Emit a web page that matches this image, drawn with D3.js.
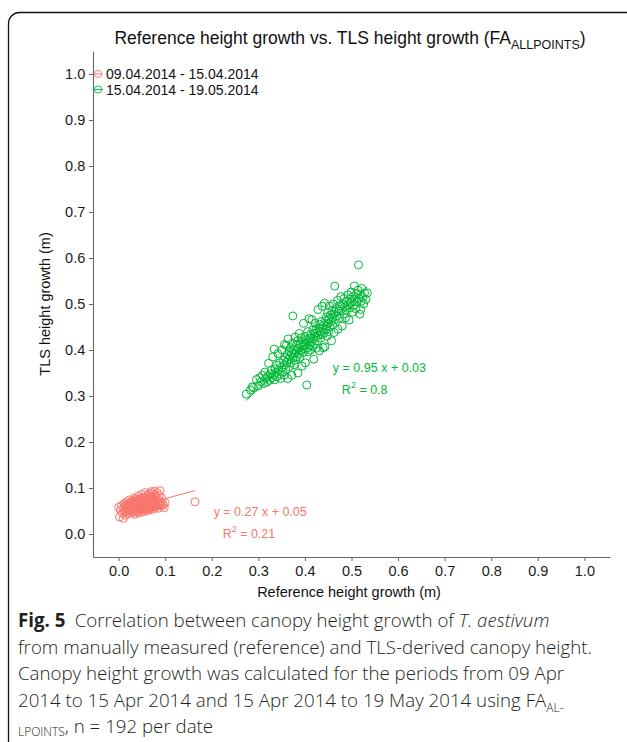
<!DOCTYPE html>
<html>
<head>
<meta charset="utf-8">
<script src="https://cdn.jsdelivr.net/npm/d3@7"></script>
<style>
  html, body { margin: 0; padding: 0; background: #fff; }
  svg { display: block; }
</style>
</head>
<body>
<svg id="fig" width="627" height="742"></svg>
<script>
// Period labels and colours
const periods = ["09.04.2014 - 15.04.2014", "15.04.2014 - 19.05.2014"];
const colors = ["#F8766D", "#00BA38"];

// Axis ticks
const xTicks = [0, 0.1, 0.2, 0.3, 0.4, 0.5, 0.6, 0.7, 0.8, 0.9, 1.0];
const yTicks = [0, 0.1, 0.2, 0.3, 0.4, 0.5, 0.6, 0.7, 0.8, 0.9, 1.0];

// Linear fits per period: slope, intercept, R²
const fitSlope = [0.27, 0.95];
const fitIntercept = [0.05, 0.03];
const fitR2 = ["0.21", "0.8"];

// Reference vs. TLS height growth (m), period 1
const period1 = [
  [0.000,0.058],[0.002,0.037],[0.004,0.052],[0.006,0.062],[0.008,0.045],[0.010,0.034],[0.011,0.056],[0.012,0.066],[0.013,0.048],[0.014,0.060],
  [0.015,0.041],[0.016,0.054],[0.017,0.070],[0.018,0.050],[0.019,0.062],[0.020,0.044],[0.021,0.058],[0.022,0.066],[0.022,0.052],[0.023,0.074],
  [0.024,0.047],[0.025,0.060],[0.025,0.055],[0.026,0.068],[0.027,0.050],[0.027,0.063],[0.028,0.057],[0.029,0.072],[0.030,0.046],[0.030,0.061],
  [0.031,0.054],[0.031,0.067],[0.032,0.058],[0.033,0.078],[0.033,0.050],[0.034,0.063],[0.034,0.056],[0.035,0.070],[0.035,0.043],[0.036,0.060],
  [0.036,0.066],[0.037,0.053],[0.037,0.075],[0.038,0.059],[0.038,0.064],[0.039,0.048],[0.039,0.069],[0.040,0.056],[0.040,0.062],[0.041,0.082],
  [0.041,0.052],[0.042,0.066],[0.042,0.058],[0.043,0.072],[0.043,0.061],[0.044,0.046],[0.044,0.064],[0.045,0.055],[0.045,0.069],[0.046,0.060],
  [0.046,0.077],[0.047,0.051],[0.047,0.065],[0.048,0.058],[0.048,0.071],[0.049,0.062],[0.049,0.086],[0.050,0.054],[0.050,0.067],[0.051,0.060],
  [0.051,0.074],[0.052,0.048],[0.052,0.064],[0.053,0.057],[0.053,0.070],[0.054,0.062],[0.054,0.080],[0.055,0.053],[0.055,0.066],[0.056,0.059],
  [0.056,0.073],[0.057,0.063],[0.057,0.090],[0.058,0.056],[0.058,0.068],[0.059,0.061],[0.059,0.076],[0.060,0.050],[0.060,0.065],[0.061,0.058],
  [0.061,0.071],[0.062,0.063],[0.062,0.084],[0.063,0.055],[0.063,0.068],[0.064,0.060],[0.064,0.075],[0.065,0.065],[0.065,0.052],[0.066,0.070],
  [0.066,0.088],[0.067,0.058],[0.067,0.063],[0.068,0.078],[0.068,0.067],[0.069,0.056],[0.069,0.072],[0.070,0.061],[0.070,0.092],[0.071,0.066],
  [0.071,0.082],[0.072,0.059],[0.072,0.070],[0.073,0.064],[0.073,0.087],[0.074,0.075],[0.074,0.054],[0.075,0.068],[0.075,0.080],[0.076,0.062],
  [0.077,0.073],[0.077,0.093],[0.078,0.058],[0.079,0.066],[0.079,0.085],[0.080,0.071],[0.081,0.061],[0.082,0.077],[0.083,0.090],[0.084,0.066],
  [0.085,0.056],[0.086,0.072],[0.087,0.083],[0.088,0.063],[0.089,0.094],[0.090,0.069],[0.091,0.061],[0.092,0.078],[0.094,0.066],[0.096,0.063],
  [0.098,0.057],[0.100,0.068],[0.164,0.070],
  [0.026,0.058],[0.028,0.064],[0.029,0.052],[0.032,0.070],[0.033,0.060],[0.035,0.057],[0.036,0.072],[0.038,0.052],[0.039,0.063],[0.040,0.068],
  [0.041,0.060],[0.042,0.050],[0.043,0.066],[0.044,0.074],[0.045,0.061],[0.046,0.056],[0.047,0.070],[0.048,0.064],[0.049,0.053],[0.050,0.060],
  [0.051,0.078],[0.052,0.068],[0.053,0.062],[0.054,0.057],[0.055,0.072],[0.056,0.065],[0.057,0.054],[0.058,0.062],[0.059,0.070],[0.060,0.078],
  [0.061,0.064],[0.062,0.057],[0.063,0.074],[0.064,0.067],[0.065,0.060],[0.066,0.078],[0.067,0.071],[0.068,0.062],[0.069,0.081],[0.070,0.066],
  [0.072,0.064],[0.074,0.070],[0.076,0.067],[0.078,0.074],[0.080,0.064],[0.020,0.060],[0.023,0.054],[0.018,0.057],[0.015,0.064]
];

// Reference vs. TLS height growth (m), period 2
const period2 = [
  [0.274,0.304],[0.283,0.313],[0.287,0.320],[0.290,0.318],[0.296,0.336],[0.300,0.322],[0.303,0.340],[0.306,0.331],[0.309,0.345],[0.312,0.327],
  [0.314,0.352],[0.316,0.338],[0.318,0.330],[0.320,0.343],[0.322,0.371],[0.324,0.334],[0.326,0.348],[0.328,0.356],[0.330,0.340],[0.331,0.385],
  [0.333,0.346],[0.334,0.402],[0.335,0.335],[0.336,0.359],[0.338,0.351],[0.339,0.367],[0.340,0.342],[0.342,0.392],[0.343,0.356],[0.345,0.348],
  [0.346,0.372],[0.348,0.338],
  [0.350,0.362],[0.351,0.400],[0.352,0.352],[0.354,0.378],[0.355,0.345],[0.356,0.412],[0.357,0.368],[0.358,0.383],[0.359,0.357],[0.360,0.410],
  [0.361,0.374],[0.362,0.390],[0.363,0.338],[0.364,0.424],[0.365,0.380],[0.366,0.398],[0.367,0.364],[0.368,0.386],[0.369,0.405],[0.370,0.372],
  [0.371,0.393],[0.372,0.345],[0.373,0.415],[0.374,0.474],[0.375,0.383],[0.376,0.401],[0.377,0.368],[0.378,0.392],[0.379,0.428],[0.380,0.378],
  [0.381,0.410],[0.382,0.397],[0.383,0.386],[0.384,0.420],[0.385,0.350],
  [0.386,0.404],[0.387,0.392],[0.388,0.436],[0.389,0.384],[0.390,0.412],[0.391,0.398],[0.392,0.426],[0.393,0.406],[0.394,0.365],[0.395,0.418],
  [0.396,0.394],[0.397,0.458],[0.398,0.410],[0.399,0.402],[0.400,0.430],[0.401,0.372],[0.402,0.414],[0.403,0.422],[0.404,0.324],[0.405,0.404],
  [0.406,0.440],[0.407,0.396],[0.408,0.418],[0.409,0.468],[0.410,0.410],[0.411,0.426],[0.412,0.400],[0.413,0.434],[0.414,0.418],[0.415,0.466],
  [0.416,0.408],[0.417,0.444],[0.418,0.424],[0.419,0.380],[0.420,0.436],[0.421,0.414],[0.422,0.458],[0.423,0.428],[0.424,0.446],[0.425,0.404],
  [0.426,0.438],[0.427,0.420],[0.428,0.488],[0.429,0.432],[0.430,0.448],[0.431,0.398],[0.432,0.456],[0.433,0.440],[0.434,0.426],[0.435,0.462],
  [0.436,0.434],[0.437,0.495],[0.438,0.446],[0.439,0.405],[0.440,0.454],[0.441,0.436],[0.442,0.502],[0.443,0.407],[0.444,0.464],[0.445,0.444],
  [0.446,0.472],[0.447,0.452],[0.448,0.430],[0.449,0.482],[0.450,0.458],[0.451,0.440],[0.452,0.468],[0.453,0.496],[0.454,0.450],[0.455,0.476],
  [0.456,0.462],[0.457,0.420],[0.458,0.486],[0.459,0.470],[0.460,0.454],[0.461,0.500],[0.462,0.478],[0.463,0.438],[0.464,0.539],[0.465,0.466],
  [0.467,0.490],[0.468,0.474],[0.470,0.508],[0.471,0.445],[0.472,0.484],[0.474,0.496],[0.475,0.470],[0.477,0.516],[0.478,0.488],[0.480,0.452],
  [0.481,0.500],[0.483,0.478],[0.484,0.512],[0.486,0.494],[0.487,0.470],[0.489,0.506],[0.490,0.486],[0.492,0.520],[0.493,0.498],[0.495,0.465],
  [0.496,0.510],[0.497,0.492],[0.499,0.526],[0.500,0.504],[0.502,0.482],[0.503,0.516],[0.505,0.498],[0.506,0.539],
  [0.508,0.510],[0.509,0.490],[0.511,0.522],[0.512,0.504],[0.514,0.530],[0.515,0.585],[0.516,0.512],[0.518,0.478],[0.519,0.520],[0.521,0.506],
  [0.522,0.534],[0.524,0.515],[0.526,0.500],[0.528,0.524],[0.531,0.510],[0.534,0.524],[0.520,0.488]
];

const series = [period1, period2];

const svg = d3.select("#fig");
const font = "'Liberation Sans', Arial, sans-serif";

// Figure frame (rounded box that runs off the page edge)
svg.append("rect")
  .attr("x", 8.5).attr("y", 12.5)
  .attr("width", 700).attr("height", 800)
  .attr("rx", 11).attr("ry", 11)
  .attr("fill", "none").attr("stroke", "#111").attr("stroke-width", 1.3);

// Panel geometry
const panel = { left: 93, right: 610, top: 51, bottom: 557 };
const x = d3.scaleLinear().domain([-0.055, 1.055]).range([panel.left, panel.right]);
const y = d3.scaleLinear().domain([-0.05, 1.05]).range([panel.bottom, panel.top]);

// Title with subscript
const title = svg.append("text")
  .attr("x", 350).attr("y", 44)
  .attr("text-anchor", "middle")
  .attr("font-family", font).attr("font-size", 17.5).attr("fill", "#111");
title.append("tspan").text("Reference height growth vs. TLS height growth (FA");
title.append("tspan").attr("font-size", 12.5).attr("dy", 5).text("ALLPOINTS");
title.append("tspan").attr("dy", -5).text(")");

// Axes
const axisColor = "#666";
const gx = svg.append("g").attr("transform", `translate(0,${panel.bottom})`)
  .call(d3.axisBottom(x).tickValues(xTicks).tickFormat(d3.format(".1f")).tickSize(4).tickSizeOuter(0));
const gy = svg.append("g").attr("transform", `translate(${panel.left},0)`)
  .call(d3.axisLeft(y).tickValues(yTicks).tickFormat(d3.format(".1f")).tickSize(4).tickSizeOuter(0));
[gx, gy].forEach(g => {
  g.select(".domain").attr("stroke", axisColor).attr("stroke-width", 1.1);
  g.selectAll(".tick line").attr("stroke", axisColor);
  g.selectAll(".tick text").attr("font-family", font).attr("font-size", 14.5).attr("fill", "#1a1a1a");
});
gx.selectAll(".tick text").attr("dy", "0.82em");
gy.selectAll(".tick text").attr("dx", "-0.05em");

// Axis titles
svg.append("text")
  .attr("x", 349).attr("y", 597)
  .attr("text-anchor", "middle")
  .attr("font-family", font).attr("font-size", 14.5).attr("fill", "#111")
  .text("Reference height growth (m)");
svg.append("text")
  .attr("transform", `translate(50,${(panel.top + panel.bottom) / 2}) rotate(-90)`)
  .attr("text-anchor", "middle")
  .attr("font-family", font).attr("font-size", 14.5).attr("fill", "#111")
  .text("TLS height growth (m)");

// Points
series.forEach((pts, i) => {
  svg.append("g").selectAll("circle").data(pts).join("circle")
    .attr("cx", d => x(d[0])).attr("cy", d => y(d[1]))
    .attr("r", 4)
    .attr("fill", "none").attr("stroke", colors[i]).attr("stroke-width", 1);
});

// Fitted lines over each period's data range
series.forEach((pts, i) => {
  const [x0, x1] = d3.extent(pts, d => d[0]);
  svg.append("line")
    .attr("x1", x(x0)).attr("y1", y(fitSlope[i] * x0 + fitIntercept[i]))
    .attr("x2", x(x1)).attr("y2", y(fitSlope[i] * x1 + fitIntercept[i]))
    .attr("stroke", colors[i]).attr("stroke-width", 1);
});

// Fit equations
const eqPos = [[0.204, 0.039], [0.460, 0.352]];
series.forEach((pts, i) => {
  const [ex, ey] = eqPos[i];
  svg.append("text")
    .attr("x", x(ex)).attr("y", y(ey))
    .attr("font-family", font).attr("font-size", 12.5).attr("fill", colors[i])
    .text(`y = ${fitSlope[i].toFixed(2)} x + ${fitIntercept[i].toFixed(2)}`);
  const r = svg.append("text")
    .attr("x", x(ex) + 9).attr("y", y(ey) + 22)
    .attr("font-family", font).attr("font-size", 12.5).attr("fill", colors[i]);
  r.append("tspan").text("R");
  r.append("tspan").attr("font-size", 9).attr("dy", -6).text("2");
  r.append("tspan").attr("dy", 6).text(` = ${fitR2[i]}`);
});

// Legend (point + line key)
periods.forEach((p, i) => {
  const ly = 74 + i * 15.5;
  svg.append("circle").attr("cx", 98).attr("cy", ly).attr("r", 3.6)
    .attr("fill", "none").attr("stroke", colors[i]).attr("stroke-width", 0.9);
  svg.append("line").attr("x1", 93).attr("x2", 103).attr("y1", ly).attr("y2", ly)
    .attr("stroke", colors[i]).attr("stroke-width", 0.9);
  svg.append("text").attr("x", 106).attr("y", ly + 5)
    .attr("font-family", font).attr("font-size", 14).attr("fill", "#111")
    .text(p);
});

// Caption
const capFont = "'Open Sans', 'Noto Sans', sans-serif";
const capX = 18, capY0 = 627, capDy = 26.6, capSize = 18.7, capColor = "#231f20";
const cap = svg.append("g").attr("font-family", capFont).attr("font-size", capSize)
  .attr("font-weight", 300).attr("fill", capColor);
const l1 = cap.append("text").attr("x", capX).attr("y", capY0);
l1.append("tspan").attr("font-weight", "bold").text("Fig. 5");
l1.append("tspan").text("\u2002Correlation between canopy height growth of ");
l1.append("tspan").attr("font-style", "italic").text("T. aestivum");
cap.append("text").attr("x", capX).attr("y", capY0 + capDy)
  .text("from manually measured (reference) and TLS-derived canopy height.");
cap.append("text").attr("x", capX).attr("y", capY0 + 2 * capDy)
  .text("Canopy height growth was calculated for the periods from 09 Apr");
const l4 = cap.append("text").attr("x", capX).attr("y", capY0 + 3 * capDy);
l4.append("tspan").text("2014 to 15 Apr 2014 and 15 Apr 2014 to 19 May 2014 using FA");
l4.append("tspan").attr("font-size", 12).attr("dy", 5).text("AL-");
const l5 = cap.append("text").attr("x", capX).attr("y", capY0 + 4 * capDy);
l5.append("tspan").attr("font-size", 12).attr("dy", 3).text("LPOINTS");
l5.append("tspan").attr("dy", -3).text(", n = 192 per date");
</script>
</body>
</html>
